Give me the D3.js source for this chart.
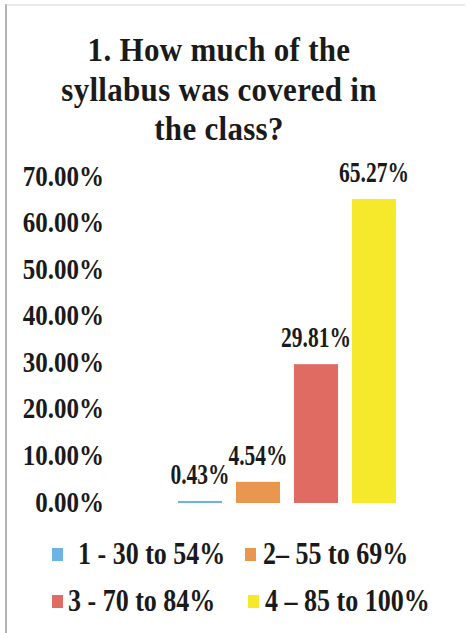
<!DOCTYPE html>
<html>
<head>
<meta charset="utf-8">
<script src="https://cdn.jsdelivr.net/npm/d3@7"></script>
<style>
  body { margin: 0; background: #fff; }
  text { font-family: "Liberation Serif", "DejaVu Serif", serif; font-weight: bold; fill: #1a1a1a; }
</style>
</head>
<body>
<svg width="469" height="633"></svg>
<script>
// chart data
var categories = ["1 - 30 to 54%", "2\u2013 55 to 69%", "3 - 70 to 84%", "4 \u2013 85 to 100%"];
var values = [0.43, 4.54, 29.81, 65.27];
var valueLabels = ["0.43%", "4.54%", "29.81%", "65.27%"];
var colors = ["#6cb4e4", "#e9974f", "#e06b62", "#f6e92b"];
var yTicks = [0, 10, 20, 30, 40, 50, 60, 70];
var titleLines = ["1. How much of the", "syllabus was covered in", "the class?"];

var svg = d3.select("svg");

// frame of the scanned box
svg.append("line").attr("x1", 6).attr("y1", 4).attr("x2", 6).attr("y2", 633)
    .attr("stroke", "#9a9a9a").attr("stroke-width", 1.5);
svg.append("line").attr("x1", 6).attr("y1", 5).attr("x2", 465).attr("y2", 5)
    .attr("stroke", "#d4d4d4").attr("stroke-width", 1);

// text is stretched vertically in the picture
function stretchText(x, y, str, size, sy, anchor) {
    return svg.append("text")
        .attr("transform", "translate(" + x + "," + y + ") scale(1," + sy + ")")
        .attr("text-anchor", anchor || "middle")
        .style("font-size", size + "px")
        .text(str);
}

// title
titleLines.forEach(function (t, i) {
    stretchText(219, 61 + i * 39.5, t, 31, 1.12).style("letter-spacing", "0.3px");
});

var x = d3.scaleBand()
    .domain(categories)
    .range([171, 403])
    .paddingInner(0.24)
    .paddingOuter(0.12);

var y = d3.scaleLinear()
    .domain([0, 70])
    .range([503, 177]);

// y axis labels only (no axis line)
var yAxis = d3.axisLeft(y)
    .tickValues(yTicks)
    .tickSize(0)
    .tickPadding(0)
    .tickFormat(d => d3.format(".2f")(d) + "%");

var gy = svg.append("g").attr("transform", "translate(104,0)").call(yAxis);
gy.select(".domain").remove();
gy.selectAll("text")
    .attr("x", 0)
    .attr("dy", null)
    .attr("y", 0)
    .attr("transform", "translate(0,8) scale(1,1.22)")
    .style("font-size", "25px")
    .style("font-family", "'Liberation Serif', serif")
    .style("font-weight", "bold")
    .attr("fill", "#1a1a1a");

// bars
svg.append("g").selectAll("rect")
    .data(values)
    .enter()
    .append("rect")
    .attr("x", (d, i) => x(categories[i]))
    .attr("width", x.bandwidth())
    .attr("y", d => Math.min(y(d), y(0) - 1.5))
    .attr("height", d => Math.max(y(0) - y(d), 1.5))
    .attr("fill", (d, i) => colors[i]);

// value labels
values.forEach(function (v, i) {
    var cx = x(categories[i]) + x.bandwidth() / 2;
    stretchText(cx, y(v) - 17, valueLabels[i], 21.5, 1.35);
});

// legend
var legendPos = [
    { sx: 52, tx: 78, y: 555 },
    { sx: 245, tx: 263, y: 555 },
    { sx: 52, tx: 68, y: 602 },
    { sx: 248, tx: 265, y: 602 }
];
categories.forEach(function (c, i) {
    var p = legendPos[i];
    svg.append("rect")
        .attr("x", p.sx).attr("y", p.y - 7)
        .attr("width", 11).attr("height", 13)
        .attr("fill", colors[i]);
    stretchText(p.tx, p.y + 9, c, 26, 1.22, "start");
});
</script>
</body>
</html>
